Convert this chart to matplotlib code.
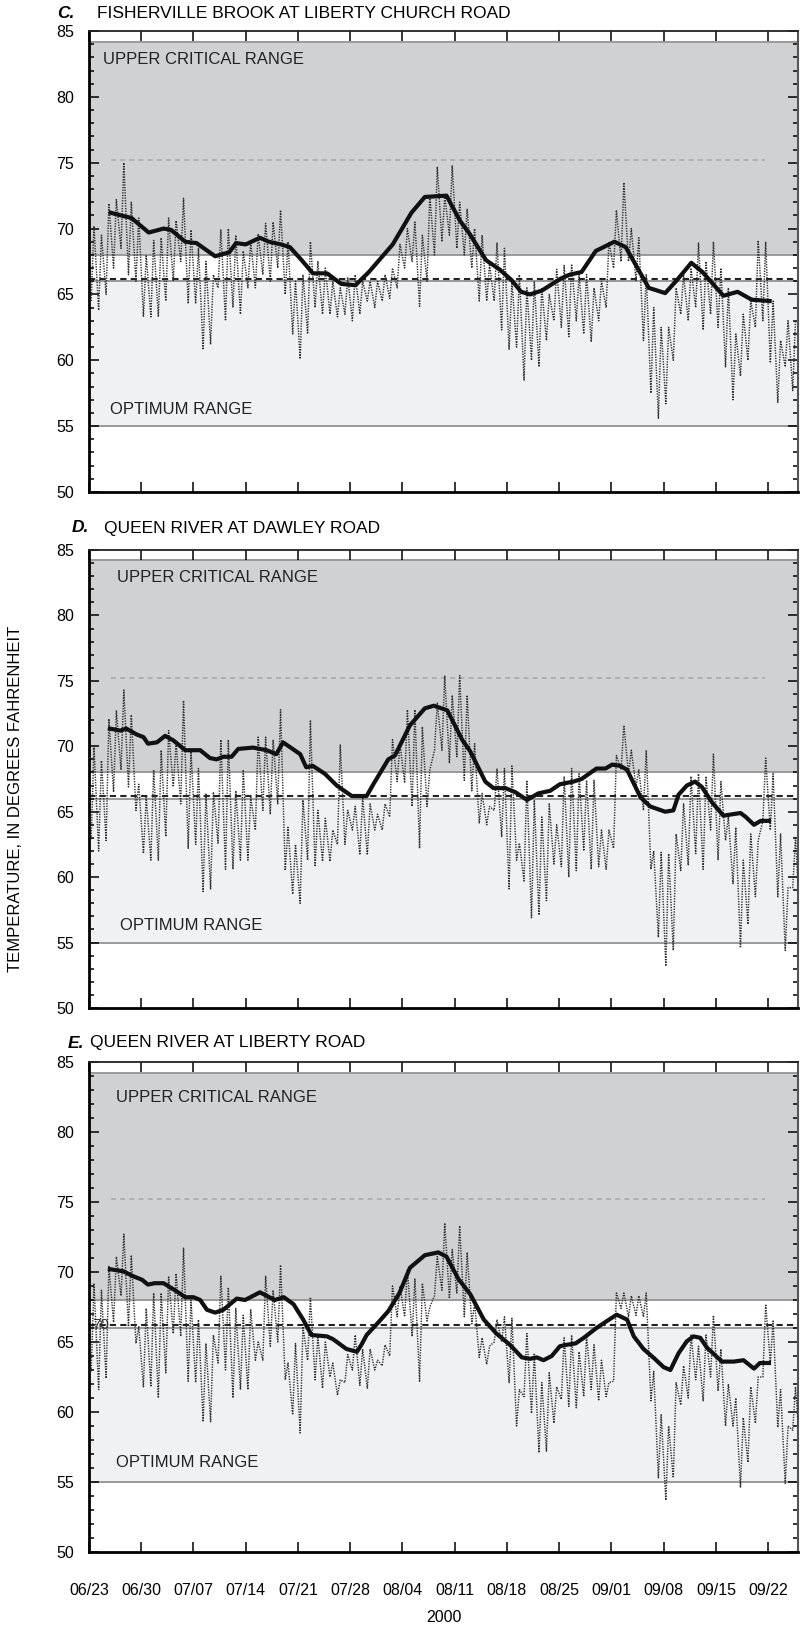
import numpy as np
import pandas as pd
import matplotlib
matplotlib.use("Agg")
from matplotlib import pyplot as plt
import matplotlib.dates as mdates
from matplotlib.ticker import MultipleLocator

plt.rcParams['font.family'] = ['Liberation Sans', 'DejaVu Sans']

start = pd.Timestamp('2000-06-23')
end = pd.Timestamp('2000-09-26')
week_ticks = pd.date_range('2000-06-23', '2000-09-22', freq='7D')

# daily low / high of the hourly record, degrees F (one value per day from 06/23)
c_min = [64.5, 63.8, 65.0, 67.0, 68.5, 66.5, 66.0, 63.3, 63.3, 63.3,
         64.5, 66.0, 67.5, 64.3, 64.3, 60.8, 61.2, 65.5, 63.0, 64.0,
         63.5, 65.5, 65.5, 66.5, 66.0, 67.0, 65.0, 62.0, 60.1, 62.0,
         64.0, 63.5, 63.5, 63.3, 63.5, 63.0, 63.5, 64.5, 64.0, 64.5,
         64.7, 65.5, 67.0, 67.5, 64.1, 66.0, 68.0, 69.0, 69.5, 68.5,
         68.0, 67.0, 64.5, 64.5, 64.5, 62.3, 60.8, 61.0, 58.5, 60.0,
         59.5, 61.5, 63.0, 62.5, 61.8, 63.0, 62.0, 61.4, 63.0, 64.0,
         67.0, 67.5, 67.5, 66.0, 61.5, 57.5, 55.6, 56.7, 60.0, 63.5,
         63.0, 64.0, 62.3, 63.5, 62.5, 59.5, 57.0, 58.8, 60.0, 62.5,
         63.0, 59.8, 56.8, 59.5, 57.7]
c_max = [70.2, 69.5, 71.9, 72.2, 75.0, 72.0, 70.8, 68.0, 69.1, 69.3,
         70.8, 70.6, 72.3, 69.9, 68.5, 67.5, 66.5, 69.9, 70.0, 69.5,
         68.3, 69.0, 69.6, 70.4, 70.5, 71.4, 69.0, 66.0, 66.5, 69.0,
         67.5, 67.0, 66.0, 65.5, 66.3, 66.5, 66.0, 66.0, 66.0, 66.5,
         67.0, 68.8, 70.0, 70.5, 69.5, 72.5, 74.7, 72.5, 74.8, 72.0,
         71.5, 70.0, 69.5, 67.3, 68.9, 68.5, 66.0, 66.5, 65.5, 66.0,
         65.5, 65.0, 66.9, 67.2, 67.3, 66.5, 66.5, 65.5, 66.0, 69.0,
         71.4, 73.5, 70.0, 69.3, 66.5, 64.0, 62.5, 62.5, 65.5, 66.5,
         67.0, 68.9, 67.5, 69.0, 67.0, 65.5, 62.0, 63.5, 64.5, 69.1,
         69.0, 64.5, 61.5, 63.0, 63.0]

d_min = [62.9, 62.0, 62.8, 66.5, 68.2, 66.9, 65.1, 61.8, 61.3, 61.3,
         63.1, 66.9, 65.6, 62.2, 62.5, 58.9, 59.1, 62.6, 60.6, 60.6,
         61.3, 61.3, 63.6, 65.1, 64.8, 65.6, 60.5, 58.7, 58.0, 61.3,
         60.8, 61.2, 61.2, 62.5, 62.5, 63.6, 61.7, 61.7, 63.6, 63.6,
         64.6, 67.3, 67.2, 65.4, 62.2, 65.4, 69.7, 69.7, 68.7, 69.2,
         67.4, 66.6, 64.1, 64.0, 65.1, 63.1, 59.1, 61.3, 59.7, 56.9,
         57.1, 58.2, 61.0, 60.8, 60.0, 60.5, 62.0, 60.6, 60.8, 60.6,
         62.2, 68.2, 67.9, 66.9, 65.1, 60.6, 55.4, 53.2, 54.4, 60.5,
         60.9, 61.8, 60.6, 63.6, 61.3, 62.8, 59.5, 54.6, 56.4, 58.5,
         64.3, 63.6, 58.5, 54.4, 59.2, 56.4]
d_max = [70.0, 68.9, 72.1, 72.7, 74.3, 72.4, 67.1, 66.1, 68.2, 69.7,
         71.2, 70.2, 73.5, 69.7, 68.3, 66.4, 66.5, 70.5, 70.5, 66.6,
         68.2, 66.1, 70.7, 70.7, 70.5, 72.8, 63.8, 62.5, 65.9, 72.0,
         65.1, 64.5, 63.6, 70.1, 65.1, 65.4, 66.1, 65.6, 64.8, 65.6,
         70.5, 70.2, 72.8, 72.8, 71.5, 68.2, 73.3, 75.4, 73.9, 75.4,
         73.9, 70.2, 66.4, 65.4, 68.3, 68.3, 68.5, 62.6, 67.4, 65.9,
         64.6, 65.6, 64.0, 67.7, 68.3, 67.9, 67.4, 67.4, 63.6, 63.6,
         69.3, 71.6, 69.7, 68.2, 69.7, 62.0, 61.9, 61.8, 63.3, 65.6,
         67.7, 67.9, 67.7, 69.4, 67.3, 64.6, 63.8, 61.3, 63.3, 62.8,
         69.1, 67.9, 63.3, 59.2, 63.1, 64.1]

e_min = [62.9, 61.6, 62.4, 66.4, 68.3, 66.1, 64.9, 61.8, 61.8, 61.0,
         62.8, 65.6, 65.4, 62.2, 62.1, 59.3, 59.3, 63.5, 63.0, 61.0,
         61.6, 61.6, 63.7, 63.7, 64.7, 65.0, 62.3, 59.8, 58.5, 63.7,
         62.3, 61.7, 62.5, 61.2, 62.1, 63.0, 61.9, 61.7, 63.0, 63.3,
         64.0, 66.8, 66.8, 65.4, 62.2, 66.5, 68.3, 68.7, 68.1, 68.5,
         66.8, 66.3, 63.9, 63.4, 65.0, 65.0, 62.1, 59.0, 61.1, 59.9,
         57.1, 57.2, 59.2, 60.9, 60.4, 60.3, 61.1, 61.6, 60.8, 61.1,
         62.2, 67.4, 66.8, 66.9, 66.8, 60.8, 55.3, 53.7, 55.3, 60.5,
         61.0, 62.3, 60.8, 62.5, 61.5, 59.0, 59.0, 54.6, 56.4, 59.2,
         62.5, 63.5, 58.9, 54.9, 58.7, 57.1]
e_max = [69.2, 68.7, 70.4, 71.1, 72.7, 71.2, 66.1, 67.4, 68.5, 68.5,
         69.7, 69.9, 71.7, 68.0, 66.6, 64.9, 65.5, 69.7, 68.9, 67.4,
         66.9, 67.3, 65.0, 69.7, 68.7, 70.5, 63.5, 64.9, 66.1, 68.2,
         65.4, 65.0, 63.5, 62.3, 64.1, 65.5, 64.5, 64.5, 63.7, 64.8,
         69.0, 69.0, 70.2, 69.5, 69.2, 67.5, 71.1, 73.5, 71.6, 73.3,
         71.4, 67.8, 65.3, 64.7, 66.6, 66.8, 66.7, 61.6, 65.6, 64.2,
         62.1, 62.8, 61.8, 65.3, 65.5, 64.3, 65.5, 64.8, 63.7, 62.1,
         68.5, 68.5, 68.3, 68.3, 68.5, 62.9, 59.8, 59.0, 62.1, 63.3,
         65.5, 64.7, 65.5, 66.9, 64.5, 62.0, 61.0, 59.6, 61.8, 62.5,
         67.7, 66.5, 61.6, 59.0, 61.8, 61.0]

# 7-day moving average (days after 06/23, degrees F)
c_avg_day = [2.9, 5.7, 8.0, 10.0, 11.0, 12.9, 14.4, 16.9, 18.8, 19.7, 21.0, 22.9, 24.1,
             25.7, 26.9, 28.5, 30.0, 31.9, 33.8, 35.7, 37.5, 40.7, 43.2, 45.0, 47.9,
             49.7, 51.0, 53.2, 55.0, 56.6, 57.9, 59.1, 60.7, 63.2, 64.4, 66.0, 67.9,
             70.4, 71.9, 75.0, 77.2, 78.8, 80.7, 82.2, 85.0, 86.9, 88.8, 91.2]
c_avg = [71.2, 70.8, 69.7, 70.0, 69.9, 69.0, 68.9, 67.9, 68.2, 68.9, 68.8, 69.3, 69.0,
         68.8, 68.6, 67.6, 66.6, 66.6, 65.8, 65.7, 66.7, 68.8, 71.2, 72.4, 72.5,
         70.6, 69.6, 67.6, 66.9, 66.1, 65.2, 65.0, 65.3, 66.2, 66.5, 66.7, 68.3,
         69.0, 68.6, 65.5, 65.1, 66.1, 67.4, 66.7, 64.9, 65.2, 64.6, 64.5]

d_avg_day = [2.8, 4.2, 5.0, 6.4, 7.3, 7.9, 9.1, 10.2, 11.3, 12.9, 14.9, 16.2, 17.1,
             18.0, 19.1, 20.0, 22.0, 23.8, 25.1, 26.0, 28.3, 29.1, 30.0, 31.6, 33.2,
             35.2, 37.2, 38.1, 40.1, 41.0, 43.0, 45.0, 46.2, 48.0, 50.0, 51.1, 53.1,
             54.2, 55.8, 57.1, 58.7, 60.2, 61.8, 63.1, 64.9, 66.0, 68.0, 69.2, 70.1,
             71.2, 72.1, 73.9, 75.2, 77.2, 78.3, 79.0, 80.1, 81.2, 82.1, 83.5, 85.0,
             87.3, 88.0, 89.1, 90.0, 91.1]
d_avg = [71.35, 71.2, 71.35, 70.9, 70.7, 70.2, 70.3, 70.8, 70.45, 69.7, 69.7, 69.1, 69.0,
         69.2, 69.2, 69.8, 69.9, 69.7, 69.4, 70.3, 69.4, 68.4, 68.5, 67.9, 67.0,
         66.2, 66.2, 67.1, 69.0, 69.3, 71.6, 72.9, 73.1, 72.75, 70.5, 69.6, 67.3,
         66.8, 66.8, 66.5, 65.9, 66.4, 66.6, 67.1, 67.3, 67.5, 68.3, 68.3, 68.6,
         68.5, 68.2, 66.1, 65.4, 65.0, 65.1, 66.3, 67.0, 67.3, 66.9, 65.7, 64.7,
         64.9, 64.6, 64.0, 64.3, 64.3]

e_avg_day = [2.8, 4.6, 5.9, 7.1, 7.9, 8.8, 10.0, 10.9, 11.8, 12.9, 14.0, 14.9, 15.8,
             16.9, 18.0, 19.8, 20.9, 22.0, 22.9, 23.8, 24.9, 26.1, 27.4, 28.7, 29.8,
             31.9, 32.7, 34.5, 35.9, 36.5, 37.2, 38.6, 40.1, 41.6, 43.0, 45.0, 46.8,
             47.9, 49.5, 51.1, 52.9, 54.6, 56.4, 58.0, 59.1, 60.0, 60.9, 62.0, 63.1,
             64.0, 65.2, 66.3, 68.0, 69.4, 70.7, 72.1, 73.0, 74.3, 75.7, 77.0, 77.9,
             79.0, 80.1, 81.0, 81.9, 82.8, 84.8, 86.4, 87.7, 89.1, 89.9, 91.1]
e_avg = [70.2, 70.05, 69.7, 69.45, 69.1, 69.2, 69.2, 68.9, 68.6, 68.2, 68.2, 68.0, 67.3,
         67.1, 67.3, 68.1, 68.0, 68.3, 68.55, 68.3, 68.0, 68.2, 67.7, 66.6, 65.5,
         65.4, 65.2, 64.5, 64.3, 64.8, 65.5, 66.3, 67.2, 68.5, 70.3, 71.2, 71.4,
         71.1, 69.5, 68.4, 66.6, 65.6, 64.8, 63.9, 63.8, 63.9, 63.7, 64.0, 64.7,
         64.8, 64.9, 65.3, 66.0, 66.5, 66.95, 66.6, 65.4, 64.5, 63.85, 63.2, 63.0,
         64.2, 65.05, 65.4, 65.3, 64.6, 63.6, 63.6, 63.7, 63.1, 63.5, 63.5]

panels = [
    ('C.', 'FISHERVILLE BROOK AT LIBERTY CHURCH ROAD', c_min, c_max, c_avg_day, c_avg),
    ('D.', 'QUEEN RIVER AT DAWLEY ROAD', d_min, d_max, d_avg_day, d_avg),
    ('E.', 'QUEEN RIVER AT LIBERTY ROAD', e_min, e_max, e_avg_day, e_avg),
]

# layout (figure fractions)
W, H = 809, 1629
axes_px = [(31, 492), (550, 1008), (1062, 1552)]
title_px = [(57, 97, 13), (72, 104, 528), (68, 90, 1043)]
upper_txt = [(1.9, 82.8), (3.8, 82.9), (3.6, 82.5)]
optimum_txt = [(2.8, 56.3), (4.2, 56.3), (3.6, 56.4)]

fig = plt.figure(figsize=(W / 100, H / 100), dpi=100)

for k, (letter, name, lo, hi, avg_day, avg) in enumerate(panels):
    top, bot = axes_px[k]
    ax = fig.add_axes([89 / W, 1 - bot / H, (798 - 89) / W, (bot - top) / H])

    # criteria bands
    ax.axhspan(68, 84.2, color='#d0d1d3', lw=0, zorder=0)
    ax.axhspan(55, 66, color='#f0f1f3', lw=0, zorder=0)
    for yv in (84.2, 68, 66, 55):
        ax.axhline(yv, color='#9a9a9a', lw=1.4, zorder=1)
    ax.axhline(66.2, color='#222222', lw=1.5, dashes=(3, 2), zorder=2)
    ax.hlines(75.2, start + pd.Timedelta(days=3), start + pd.Timedelta(days=90.6),
              color='#aaaaaa', lw=1.2, linestyles=(0, (3, 2.5)), zorder=2)

    # hourly record, drawn from daily low (morning) and high (afternoon)
    n = len(lo)
    days = pd.to_timedelta(np.arange(n), unit='D')
    t = np.empty(2 * n, dtype='datetime64[ns]')
    t[0::2] = (start + days + pd.Timedelta(hours=7)).values
    t[1::2] = (start + days + pd.Timedelta(hours=16)).values
    v = np.empty(2 * n)
    v[0::2] = lo
    v[1::2] = hi
    ax.plot(t, v, color='#2e2e2e', lw=1.05, linestyle=(0, (0.9, 0.9)), zorder=3)

    # moving average
    ta = start + pd.to_timedelta(avg_day, unit='D')
    ax.plot(ta, avg, color='#111111', lw=3.0, solid_joinstyle='round', zorder=4)

    ax.text(start + pd.Timedelta(days=upper_txt[k][0]), upper_txt[k][1],
            'UPPER CRITICAL RANGE', fontsize=12, color='#222222', va='center', zorder=5)
    ax.text(start + pd.Timedelta(days=optimum_txt[k][0]), optimum_txt[k][1],
            'OPTIMUM RANGE', fontsize=12, color='#222222', va='center', zorder=5)
    if letter == 'E.':
        ax.text(start + pd.Timedelta(days=0.5), 66.2, '70', fontsize=11,
                color='#333333', va='center', zorder=5)

    ax.set_xlim(start, end)
    ax.set_ylim(50, 85)
    ax.set_yticks(range(50, 86, 5))
    ax.yaxis.set_minor_locator(MultipleLocator(1))
    ax.set_xticks(week_ticks)
    ax.xaxis.set_major_formatter(mdates.DateFormatter('%m/%d'))
    ax.tick_params(which='both', direction='in', top=True, right=True, width=1.1)
    ax.tick_params(which='major', length=7)
    ax.tick_params(which='minor', length=3.5)
    ax.tick_params(axis='y', labelsize=11.5, pad=11)
    ax.tick_params(axis='x', labelsize=11.5, pad=22, labelbottom=(k == 2))
    ax.spines['left'].set_linewidth(2)
    ax.spines['bottom'].set_linewidth(2)
    ax.spines['top'].set_linewidth(1.3)
    ax.spines['top'].set_color('#222222')
    ax.spines['right'].set_linewidth(1.5)
    ax.spines['right'].set_color('#555555')

    lx, tx, ty = title_px[k]
    fig.text(lx / W, 1 - ty / H, letter, fontsize=12.5, style='italic',
             weight='bold', va='center', ha='left')
    fig.text(tx / W, 1 - ty / H, name, fontsize=12.5, va='center', ha='left')

fig.text(16 / W, 1 - 799 / H, 'TEMPERATURE, IN DEGREES FAHRENHEIT', rotation=90,
         fontsize=12, ha='center', va='center')
fig.text(443.5 / W, 1 - 1618 / H, '2000', fontsize=11.5, ha='center', va='center')

fig.savefig('out.png', dpi=100)
